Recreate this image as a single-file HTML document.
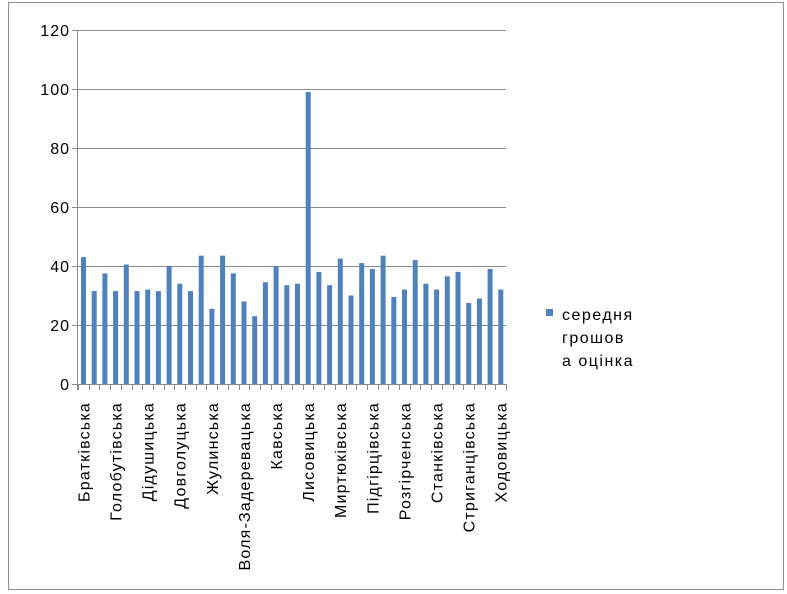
<!DOCTYPE html>
<html><head><meta charset="utf-8"><style>
body{margin:0;background:#fff;}
svg{display:block;font-family:"Liberation Sans",sans-serif;}
</style></head><body>
<svg width="787" height="594" xmlns="http://www.w3.org/2000/svg">
<rect x="8.5" y="2.5" width="775" height="587" fill="#fff" stroke="#8c8c8c"/>
<g stroke="#8a8a8a" stroke-width="1">
<line x1="72" y1="30.5" x2="506" y2="30.5"/>
<line x1="72" y1="89.5" x2="506" y2="89.5"/>
<line x1="72" y1="148.5" x2="506" y2="148.5"/>
<line x1="72" y1="207.5" x2="506" y2="207.5"/>
<line x1="72" y1="266.5" x2="506" y2="266.5"/>
<line x1="72" y1="325.5" x2="506" y2="325.5"/>
<line x1="72" y1="384.5" x2="506" y2="384.5"/>
<line x1="77.5" y1="30" x2="77.5" y2="390"/>
</g>
<g font-size="16" fill="#000" text-anchor="end" letter-spacing="1">
<text x="70" y="36">120</text><text x="70" y="95">100</text><text x="70" y="154">80</text>
<text x="70" y="213">60</text><text x="70" y="272">40</text><text x="70" y="331">20</text><text x="70" y="390">0</text>
</g>
<g id="bars" fill="#4f81bd"></g>
<g id="ticks" stroke="#8a8a8a"></g>
<g id="labels" font-size="16" fill="#000" text-anchor="end" letter-spacing="1.2"></g>
<rect x="546" y="309" width="7" height="7" fill="#4f81bd"/>
<g font-size="16" fill="#000" letter-spacing="1.5">
<text x="562" y="320">середня</text><text x="562" y="343">грошов</text><text x="562" y="366">а оцінка</text>
</g>
<script>
var v=[43,31.5,37.5,31.5,40.5,31.5,32,31.5,40,34,31.5,43.5,25.5,43.5,37.5,28,23,34.5,40,33.5,34,99,38,33.5,42.5,30,41,39,43.5,29.5,32,42,34,32,36.5,38,27.5,29,39,32];
var names=["Братківська","Голобутівська","Дідушицька","Довголуцька","Жулинська","Воля-Задеревацька","Кавська","Лисовицька","Миртюківська","Підгірцівська","Розгірченська","Станківська","Стриганцівська","Ходовицька"];
var ns="http://www.w3.org/2000/svg",w=428/40,x0=78;
var b=document.getElementById("bars"),t=document.getElementById("ticks"),l=document.getElementById("labels");
v.forEach(function(d,i){var r=document.createElementNS(ns,"rect");var h=d*2.95;
r.setAttribute("x",x0+i*w+3);r.setAttribute("y",384-h);r.setAttribute("width",5);r.setAttribute("height",h);b.appendChild(r);});
for(var i=0;i<=40;i++){var ln=document.createElementNS(ns,"line");var x=Math.round(x0+i*w)+0.5;
ln.setAttribute("x1",x);ln.setAttribute("x2",x);ln.setAttribute("y1",384);ln.setAttribute("y2",390);t.appendChild(ln);}
names.forEach(function(n,k){var i=k*3;var cx=x0+i*w+w/2+6;var tx=document.createElementNS(ns,"text");
tx.setAttribute("transform","translate("+cx+",402) rotate(-90)");tx.textContent=n;l.appendChild(tx);});
</script>
</svg>
</body></html>
